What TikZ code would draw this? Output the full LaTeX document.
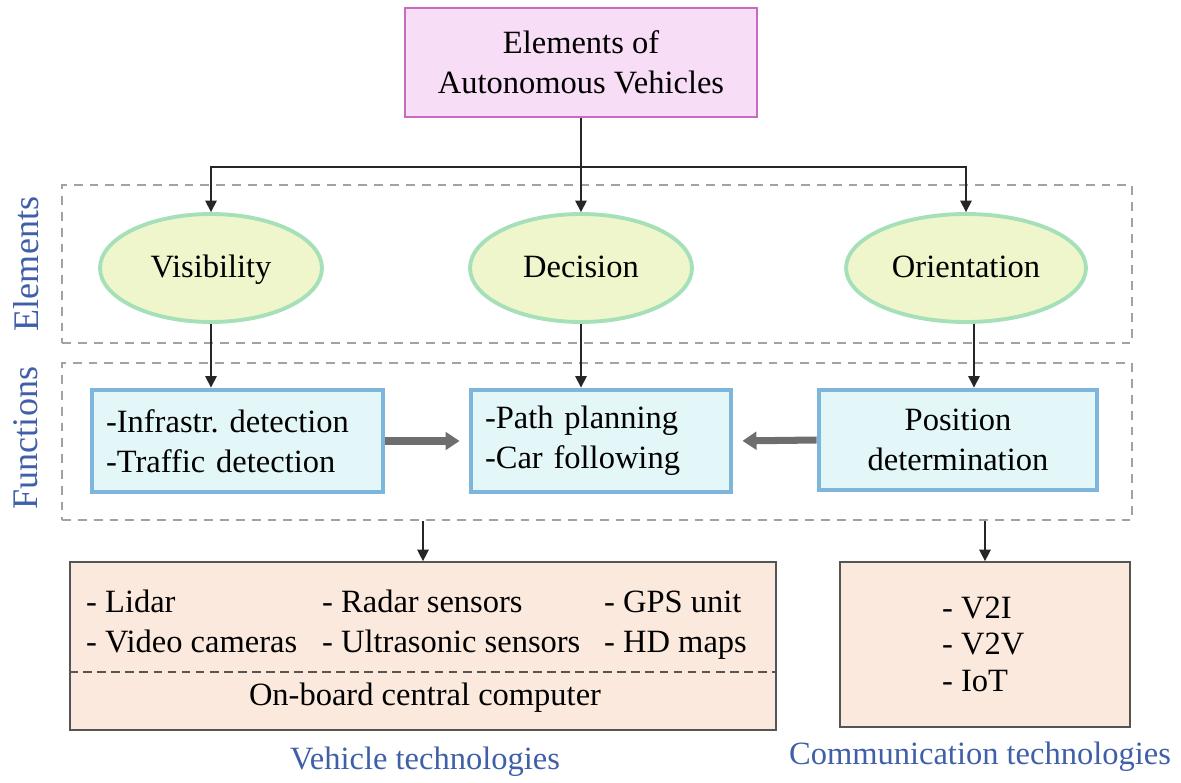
\documentclass[tikz,border=0pt]{standalone}
\usepackage{fontspec}
\setmainfont{Liberation Serif}
\usetikzlibrary{positioning}
\usetikzlibrary{arrows.meta}
\usetikzlibrary{shapes.geometric}

\definecolor{avfill}{HTML}{F7DDF5}
\definecolor{avline}{HTML}{C76BBE}
\definecolor{elfill}{HTML}{F0F6CC}
\definecolor{elline}{HTML}{A6E0B8}
\definecolor{fnfill}{HTML}{E3F6F8}
\definecolor{fnline}{HTML}{7DB5DC}
\definecolor{techfill}{HTML}{FBE9DD}
\definecolor{techline}{HTML}{555555}
\definecolor{lblblue}{HTML}{3F5FA8}
\definecolor{frameline}{HTML}{A2A2A2}
\definecolor{bigarrow}{HTML}{6E6E6E}

\begin{document}
\begin{tikzpicture}[x=0.02cm,y=-0.02cm,
  font=\fontsize{18.5}{22.8}\selectfont,
  avbox/.style={draw=avline,fill=avfill,line width=1.6pt,align=center,
    minimum width=7.04cm,minimum height=2.18cm},
  elnode/.style={ellipse,draw=elline,fill=elfill,line width=2.2pt,
    minimum width=4.44cm,minimum height=2.16cm,text height=2.9ex,text depth=0.5ex},
  fnbox/.style={draw=fnline,fill=fnfill,line width=2.8pt,inner xsep=0.28cm,
    minimum height=2.04cm},
  techbox/.style={draw=techline,fill=techfill,line width=1pt},
  frame/.style={draw=frameline,line width=1.1pt,dash pattern=on 5pt off 4pt,
    minimum width=21.4cm},
  bluelbl/.style={text=lblblue},
  sidelbl/.style={text=lblblue,rotate=90,font=\fontsize{20.5}{24}\selectfont},
  arr/.style={-{Triangle[width=6.5pt,length=6.5pt]},line width=0.8pt,black!85},
  thickarr/.style={-{Triangle[width=10pt,length=8pt]},line width=4pt,bigarrow,
    shorten >=0.18cm}]
 \useasboundingbox (0,0) rectangle (1181,782);

 % dashed frames
 \node[frame,minimum height=3.16cm] (elframe) at (597,264) {};
 \node[frame,minimum height=3.14cm] (fnframe) at (597,441.5) {};
 \node[sidelbl] (ellbl) at (26,264) {Elements};
 \node[sidelbl] (fnlbl) at (26,438) {Functions};

 % top
 \node[avbox] (av) at (581,62.5) {Elements of\\Autonomous Vehicles};

 % elements
 \node[elnode] (vis) at (211,268) {Visibility};
 \node[elnode] (dec) at (581,268) {Decision};
 \node[elnode,minimum width=4.8cm] (ori) at (966,268) {Orientation};

 % functions
 \node[fnbox,text width=5.26cm,align=left] (infra) at (237.5,441)
   {-Infrastr.\ detection\\-Traffic detection};
 \node[fnbox,text width=4.64cm,align=left] (path) at (601,441)
   {-Path planning\\-Car following};
 \node[fnbox,text width=5.0cm,align=center,minimum height=2.0cm] (pos) at (958,440)
   {Position\\determination};

 % technologies
 \node[techbox,minimum width=14.12cm,minimum height=3.36cm] (vtech) at (423,646) {};
 \node[anchor=north west,align=left] (sens1) at (80,578) {\strut- Lidar\\- Video cameras\strut};
 \node[anchor=north west,align=left] (sens2) at (316,578) {\strut- Radar sensors\\- Ultrasonic sensors\strut};
 \node[anchor=north west,align=left] (sens3) at (598,578) {\strut- GPS unit\\- HD maps\strut};
 \coordinate (cut) at (0,672);
 \draw[techline,line width=1pt,dash pattern=on 5pt off 3pt]
   (vtech.west |- cut) -- (vtech.east |- cut);
 \node (obc) at (425,698) {On-board central computer};

 \node[techbox,minimum width=5.8cm,minimum height=3.3cm] (ctech) at (985,644.5) {};
 \node[anchor=west,align=left,font=\fontsize{18.5}{20.8}\selectfont] (comms) at (936,644)
   {- V2I\\- V2V\\- IoT};

 \node[bluelbl] (vlbl) at (425,762) {Vehicle technologies};
 \node[bluelbl] (clbl) at (980,757) {Communication technologies};

 % connectors
 \coordinate (split) at (581,167);
 \draw[arr] (av.south) -- (dec.north);
 \draw[arr] (split) -| (vis.north);
 \draw[arr] (split) -| (ori.north);
 \draw[arr] (vis.south) -- (vis.south |- infra.north);
 \draw[arr] (dec.south) -- (dec.south |- path.north);
 \draw[arr] ([xshift=0.16cm]ori.south) -- ([xshift=0.16cm]ori.south |- pos.north);
 \draw[thickarr] (infra.east) -- (path.west);
 \draw[thickarr] (pos.west) -- (path.east);
 \draw[arr] (vtech.north |- fnframe.south) -- (vtech.north);
 \draw[arr] (ctech.north |- fnframe.south) -- (ctech.north);
\end{tikzpicture}
\end{document}
